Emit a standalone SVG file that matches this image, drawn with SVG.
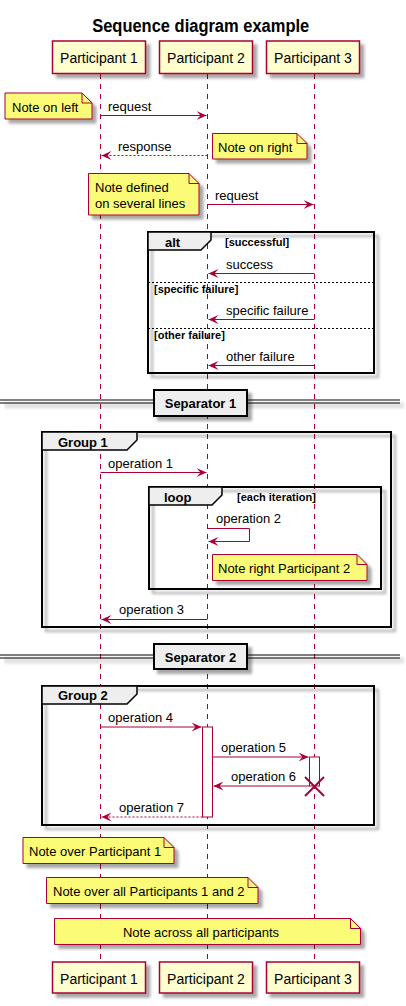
<svg xmlns="http://www.w3.org/2000/svg" width="406" height="1006" viewBox="0 0 406 1006">
<defs>
<filter id="sh" filterUnits="userSpaceOnUse" x="0" y="0" width="406" height="1006">
<feGaussianBlur in="SourceAlpha" stdDeviation="1.8"/>
<feOffset dx="4" dy="4"/>
<feComponentTransfer><feFuncA type="linear" slope="0.35"/></feComponentTransfer>
<feMerge><feMergeNode/><feMergeNode in="SourceGraphic"/></feMerge>
</filter>
<marker id="ah" viewBox="0 0 10 9" refX="10" refY="4.5" markerWidth="10" markerHeight="9" markerUnits="userSpaceOnUse" orient="auto">
<path d="M0,0 L10,4.5 L0,9 L4,4.5 Z" fill="#A80036"/>
</marker>
</defs>
<style>
text{font-family:"Liberation Sans",Arial,sans-serif;fill:#000}
.t{font-size:13px}
.pt{font-size:14px;text-anchor:middle}
.b13{font-size:13px;font-weight:bold}
.b11{font-size:11px;font-weight:bold}
.part{fill:#FEFECE;stroke:#A80036;stroke-width:1.5;filter:url(#sh)}
.life{stroke:#A80036;stroke-width:1;stroke-dasharray:5,5;fill:none}
.msg{stroke:#A80036;stroke-width:1;fill:none;marker-end:url(#ah)}
.dash{stroke-dasharray:2,2}
.note{fill:#FBFB77;stroke:#A80036;stroke-width:1;filter:url(#sh)}
.fold{fill:none;stroke:#A80036;stroke-width:1}
.frame{fill:none;stroke:#000;stroke-width:2;filter:url(#sh)}
.tab{fill:#EEEEEE;stroke:#000;stroke-width:1.5}
.div{stroke:#000;stroke-width:1;stroke-dasharray:2,2}
.sepl{stroke:#000;stroke-width:1;filter:url(#sh)}
.sepb{fill:#EEEEEE;stroke:#000;stroke-width:2;filter:url(#sh)}
.act{fill:#FFFFFF;stroke:#A80036;stroke-width:1}
</style>

<text x="200.7" y="32" text-anchor="middle" font-size="18" font-weight="bold" textLength="217" lengthAdjust="spacingAndGlyphs">Sequence diagram example</text>

<g id="lifelines">
<line class="life" x1="100.5" y1="74" x2="100.5" y2="962"/>
<line class="life" x1="207.5" y1="74" x2="207.5" y2="962"/>
<line class="life" x1="314.5" y1="74" x2="314.5" y2="962"/>
</g>

<g id="alt">
<rect class="frame" x="148" y="232" width="226" height="141"/>
<polygon class="tab" points="148,232 211,232 211,240 201,250 148,250"/>
<text class="b13" x="165" y="246.5">alt</text>
<text class="b11" x="225" y="246">[successful]</text>
<line class="div" x1="148" y1="282.5" x2="374" y2="282.5"/>
<text class="b11" x="154" y="293">[specific failure]</text>
<line class="div" x1="148" y1="328.5" x2="374" y2="328.5"/>
<text class="b11" x="154" y="339">[other failure]</text>
</g>

<g id="separator1">
<line class="sepl" x1="0" y1="400" x2="400" y2="400"/>
<line class="sepl" x1="0" y1="403" x2="400" y2="403"/>
<rect class="sepb" x="154" y="390" width="93" height="26"/>
<text class="b13" x="200.5" y="407.5" text-anchor="middle">Separator 1</text>
</g>

<g id="group1">
<rect class="frame" x="42" y="432" width="349" height="195"/>
<polygon class="tab" points="42,432 137,432 137,440 127,450 42,450"/>
<text class="b13" x="58" y="446.5">Group 1</text>
</g>

<g id="loop">
<rect class="frame" x="149" y="487" width="232" height="102"/>
<polygon class="tab" points="149,487 222,487 222,495 212,505 149,505"/>
<text class="b13" x="164" y="502">loop</text>
<text class="b11" x="237" y="501">[each iteration]</text>
</g>

<g id="separator2">
<line class="sepl" x1="0" y1="655" x2="400" y2="655"/>
<line class="sepl" x1="0" y1="658" x2="400" y2="658"/>
<rect class="sepb" x="154" y="644" width="93" height="25"/>
<text class="b13" x="200.5" y="661.5" text-anchor="middle">Separator 2</text>
</g>

<g id="group2">
<rect class="frame" x="42" y="686" width="332" height="139"/>
<polygon class="tab" points="42,686 137,686 137,694 127,704 42,704"/>
<text class="b13" x="58" y="699.5">Group 2</text>
</g>

<g id="activations">
<rect class="act" x="202.5" y="727" width="10" height="90"/>
<rect class="act" x="309.5" y="757" width="10" height="29"/>
</g>

<g id="connectors">
<line class="msg" x1="100.5" y1="115.5" x2="206.5" y2="115.5"/>
<text class="t" x="108" y="111">request</text>
<line class="msg dash" x1="207.5" y1="155.5" x2="101.5" y2="155.5"/>
<text class="t" x="118" y="151">response</text>
<line class="msg" x1="207.5" y1="204.5" x2="313.5" y2="204.5"/>
<text class="t" x="215" y="200">request</text>
<line class="msg" x1="314.5" y1="273.5" x2="208.5" y2="273.5"/>
<text class="t" x="226" y="269">success</text>
<line class="msg" x1="314.5" y1="319.5" x2="208.5" y2="319.5"/>
<text class="t" x="226" y="315">specific failure</text>
<line class="msg" x1="314.5" y1="365.5" x2="208.5" y2="365.5"/>
<text class="t" x="226" y="361">other failure</text>
<line class="msg" x1="100.5" y1="472.5" x2="206.5" y2="472.5"/>
<text class="t" x="108" y="468">operation 1</text>
<polyline class="msg" points="207.5,528.5 249.5,528.5 249.5,541.5 208.5,541.5"/>
<text class="t" x="216" y="523">operation 2</text>
<line class="msg" x1="207.5" y1="619.5" x2="101.5" y2="619.5"/>
<text class="t" x="119" y="614">operation 3</text>
<line class="msg" x1="100.5" y1="727" x2="201.5" y2="727"/>
<text class="t" x="108" y="722">operation 4</text>
<line class="msg" x1="212.5" y1="757" x2="308.5" y2="757"/>
<text class="t" x="221" y="752">operation 5</text>
<line class="msg" x1="309.5" y1="786" x2="213.5" y2="786"/>
<text class="t" x="231" y="781">operation 6</text>
<line class="msg dash" x1="202.5" y1="817" x2="101.5" y2="817"/>
<text class="t" x="119" y="812">operation 7</text>
<path d="M305,777 L324,796 M324,777 L305,796" stroke="#A80036" stroke-width="2" fill="none"/>
</g>

<g id="note-left">
<path class="note" d="M5,93 L5,119 L92,119 L92,103 L82,93 Z"/>
<path class="fold" d="M82,93 L82,103 L92,103"/>
<text class="t" x="12" y="112">Note on left</text>
</g>
<g id="note-right">
<path class="note" d="M212.5,133.5 L212.5,159 L307,159 L307,143.5 L297,133.5 Z"/>
<path class="fold" d="M297,133.5 L297,143.5 L307,143.5"/>
<text class="t" x="218" y="152">Note on right</text>
</g>
<g id="note-multi">
<path class="note" d="M88.5,173.5 L88.5,215 L199,215 L199,183.5 L189,173.5 Z"/>
<path class="fold" d="M189,173.5 L189,183.5 L199,183.5"/>
<text class="t" x="95" y="192">Note defined</text>
<text class="t" x="95" y="208">on several lines</text>
</g>
<g id="note-p2">
<path class="note" d="M212.5,554.5 L212.5,580.5 L367,580.5 L367,564.5 L357,554.5 Z"/>
<path class="fold" d="M357,554.5 L357,564.5 L367,564.5"/>
<text class="t" x="218" y="573">Note right Participant 2</text>
</g>
<g id="note-over-p1">
<path class="note" d="M23,837.5 L23,863.5 L174,863.5 L174,847.5 L164,837.5 Z"/>
<path class="fold" d="M164,837.5 L164,847.5 L174,847.5"/>
<text class="t" x="29" y="856">Note over Participant 1</text>
</g>
<g id="note-over-p12">
<path class="note" d="M46.5,877.5 L46.5,903.5 L258,903.5 L258,887.5 L248,877.5 Z"/>
<path class="fold" d="M248,877.5 L248,887.5 L258,887.5"/>
<text class="t" x="53" y="896">Note over all Participants 1 and 2</text>
</g>
<g id="note-across">
<path class="note" d="M54.5,918.5 L54.5,944.5 L360.5,944.5 L360.5,928.5 L350.5,918.5 Z"/>
<path class="fold" d="M350.5,918.5 L350.5,928.5 L360.5,928.5"/>
<text class="t" x="201" y="937" text-anchor="middle">Note across all participants</text>
</g>

<g id="participant1-top"><rect class="part" x="52.5" y="41" width="93" height="32.5"/><text class="pt" x="99" y="63">Participant 1</text></g>
<g id="participant2-top"><rect class="part" x="159.5" y="41" width="93" height="32.5"/><text class="pt" x="206" y="63">Participant 2</text></g>
<g id="participant3-top"><rect class="part" x="266.5" y="41" width="93" height="32.5"/><text class="pt" x="313" y="63">Participant 3</text></g>
<g id="participant1-bottom"><rect class="part" x="52.5" y="962" width="93" height="31"/><text class="pt" x="99" y="984">Participant 1</text></g>
<g id="participant2-bottom"><rect class="part" x="159.5" y="962" width="93" height="31"/><text class="pt" x="206" y="984">Participant 2</text></g>
<g id="participant3-bottom"><rect class="part" x="266.5" y="962" width="93" height="31"/><text class="pt" x="313" y="984">Participant 3</text></g>
</svg>
